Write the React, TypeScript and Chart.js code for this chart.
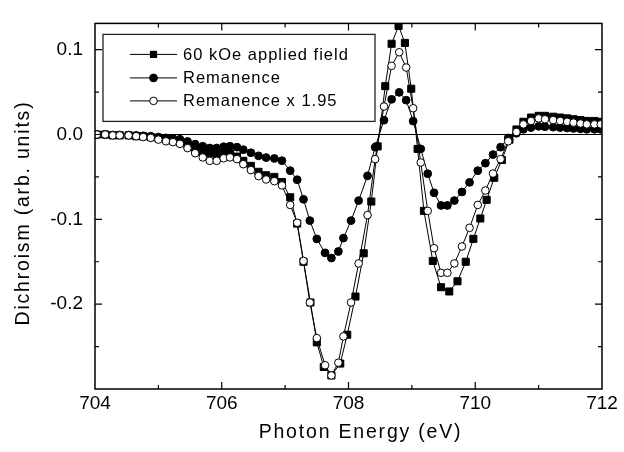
import React, { useEffect, useRef } from 'react';
import { Chart, registerables } from 'chart.js';

Chart.register(...registerables);

// ---- Data ----
const energyRemanence = [
  704.03, 704.16, 704.28, 704.39, 704.53, 704.65, 704.76, 704.88,
  705.0, 705.12, 705.23, 705.34, 705.46, 705.58, 705.7, 705.81, 705.92,
  706.03, 706.13, 706.24, 706.34, 706.46, 706.58, 706.7, 706.83, 706.95,
  707.08, 707.19, 707.29, 707.39, 707.5, 707.63, 707.73, 707.84, 707.92,
  708.04, 708.16, 708.3, 708.42, 708.56, 708.68, 708.8, 708.91,
  709.02, 709.14, 709.25, 709.35, 709.46, 709.56, 709.67, 709.79, 709.91,
  710.04, 710.16, 710.28, 710.4, 710.52, 710.65, 710.76, 710.88,
  711.0, 711.1, 711.23, 711.34, 711.45, 711.55, 711.66, 711.76, 711.88, 711.98,
];

const remanence = [
  0.0, 0.0, -0.0005, -0.0005, -0.0005, -0.001, -0.0015, -0.002,
  -0.003, -0.004, -0.0046, -0.0056, -0.0082, -0.0113, -0.0138, -0.0159, -0.0159,
  -0.0144, -0.0138, -0.0149, -0.0179, -0.0215, -0.0251, -0.0272, -0.0282, -0.0308,
  -0.0426, -0.0533, -0.0764, -0.1015, -0.1231, -0.1395, -0.1456, -0.1379, -0.1221,
  -0.1015, -0.0779, -0.0487, -0.0149, 0.0169, 0.0415, 0.0497, 0.0405,
  0.0159, -0.0169, -0.0462, -0.0687, -0.0836, -0.0836, -0.0779, -0.0677, -0.0564,
  -0.0426, -0.0338, -0.0236, -0.0149, -0.0041, 0.0015, 0.0062, 0.0082,
  0.0097, 0.0092, 0.0087, 0.0082, 0.0077, 0.0072, 0.0067, 0.0062, 0.0062, 0.0062,
];

const remanenceScaled = [
  0.0, 0.0, -0.001, -0.001, -0.001, -0.002, -0.003, -0.004,
  -0.006, -0.008, -0.009, -0.011, -0.016, -0.022, -0.027, -0.031, -0.031,
  -0.028, -0.027, -0.029, -0.035, -0.042, -0.049, -0.053, -0.055, -0.06,
  -0.083, -0.104, -0.149, -0.198, -0.24, -0.272, -0.284, -0.269, -0.238,
  -0.198, -0.152, -0.095, -0.029, 0.033, 0.081, 0.097, 0.079,
  0.031, -0.033, -0.09, -0.134, -0.163, -0.163, -0.152, -0.132, -0.11,
  -0.083, -0.066, -0.046, -0.029, -0.008, 0.003, 0.012, 0.016,
  0.019, 0.018, 0.017, 0.016, 0.015, 0.014, 0.013, 0.012, 0.012, 0.012,
];

const energyField = [
  704.03, 704.16, 704.28, 704.39, 704.53, 704.65, 704.76, 704.88,
  705.0, 705.12, 705.23, 705.34, 705.46, 705.58, 705.7, 705.81, 705.92,
  706.03, 706.13, 706.24, 706.34, 706.46, 706.58, 706.7, 706.83, 706.95,
  707.08, 707.19, 707.29, 707.4, 707.5, 707.61, 707.73, 707.87, 707.98,
  708.11, 708.24, 708.36, 708.46, 708.58, 708.68, 708.79, 708.89, 708.99,
  709.09, 709.19, 709.33, 709.46, 709.59, 709.72, 709.85, 709.97,
  710.08, 710.18, 710.3, 710.42, 710.54, 710.65, 710.76, 710.88,
  711.0, 711.1, 711.23, 711.34, 711.45, 711.55, 711.66, 711.76, 711.88, 711.98,
];

const field60kOe = [
  0.0, 0.0, -0.001, -0.001, -0.001, -0.002, -0.002, -0.003,
  -0.004, -0.005, -0.007, -0.009, -0.013, -0.017, -0.02, -0.022, -0.023,
  -0.022, -0.023, -0.026, -0.031, -0.037, -0.044, -0.048, -0.05, -0.056,
  -0.074, -0.105, -0.15, -0.198, -0.245, -0.274, -0.284, -0.27, -0.236,
  -0.191, -0.14, -0.079, -0.014, 0.057, 0.107, 0.128, 0.108, 0.054,
  -0.017, -0.09, -0.149, -0.18, -0.185, -0.173, -0.15, -0.123,
  -0.099, -0.077, -0.051, -0.03, -0.006, 0.006, 0.015, 0.02,
  0.022, 0.022, 0.021, 0.02, 0.019, 0.018, 0.017, 0.016, 0.016, 0.015,
];

const xTickLabels = [704, 706, 708, 710, 712];
const yTickLabels = [0.1, 0.0, -0.1, -0.2];
const legendLabels = ['60 kOe applied field', 'Remanence', 'Remanence x 1.95'];
const xTitle = 'Photon Energy (eV)';
const yTitle = 'Dichroism (arb. units)';

const FONT = '"Liberation Sans", Arial, Helvetica, sans-serif';

const toPoints = (xs: number[], ys: number[]) => xs.map((x, i) => ({ x, y: ys[i] }));

const isLabelled = (v: number, list: number[]) => list.some((t) => Math.abs(t - v) < 1e-6);

function drawMarker(ctx: CanvasRenderingContext2D, kind: string, x: number, y: number) {
  ctx.save();
  ctx.lineWidth = 1;
  ctx.strokeStyle = '#000';
  if (kind === 'square') {
    ctx.fillStyle = '#000';
    ctx.fillRect(x - 3.6, y - 3.6, 7.2, 7.2);
  } else {
    ctx.beginPath();
    ctx.arc(x, y, kind === 'filled' ? 3.9 : 3.8, 0, Math.PI * 2);
    ctx.fillStyle = kind === 'filled' ? '#000' : '#fff';
    ctx.fill();
    ctx.stroke();
  }
  ctx.restore();
}

const framePlugin = {
  id: 'frameAndExtras',
  beforeDraw(chart: any) {
    const { ctx, width, height } = chart;
    ctx.save();
    ctx.fillStyle = '#fff';
    ctx.fillRect(0, 0, width, height);
    ctx.restore();
  },
  beforeDatasetsDraw(chart: any) {
    const { ctx, chartArea: a, scales } = chart;
    const y0 = scales.y.getPixelForValue(0);
    ctx.save();
    ctx.strokeStyle = '#000';
    ctx.lineWidth = 1.2;
    ctx.beginPath();
    ctx.moveTo(a.left, y0);
    ctx.lineTo(a.right, y0);
    ctx.stroke();
    ctx.restore();
  },
  afterDatasetsDraw(chart: any) {
    const { ctx, chartArea: a, scales } = chart;
    const xs = scales.x;
    const ys = scales.y;
    ctx.save();
    ctx.strokeStyle = '#000';
    ctx.lineWidth = 1.5;
    ctx.strokeRect(a.left, a.top, a.right - a.left, a.bottom - a.top);

    // inward ticks on all four sides
    ctx.lineWidth = 1.2;
    ctx.beginPath();
    xs.ticks.forEach((t: any) => {
      const v = t.value;
      if (v <= xs.min + 1e-6 || v >= xs.max - 1e-6) return;
      const px = xs.getPixelForValue(v);
      const len = isLabelled(v, xTickLabels) ? 7 : 4;
      ctx.moveTo(px, a.bottom);
      ctx.lineTo(px, a.bottom - len);
      ctx.moveTo(px, a.top);
      ctx.lineTo(px, a.top + len);
    });
    ys.ticks.forEach((t: any) => {
      const v = t.value;
      if (v <= ys.min + 1e-6 || v >= ys.max - 1e-6) return;
      const py = ys.getPixelForValue(v);
      const len = isLabelled(v, yTickLabels) ? 7 : 4;
      ctx.moveTo(a.left, py);
      ctx.lineTo(a.left + len, py);
      ctx.moveTo(a.right, py);
      ctx.lineTo(a.right - len, py);
    });
    ctx.stroke();

    // legend box
    const lx = a.left + 8;
    const ly = a.top + 11;
    const lw = 272;
    const lh = 87;
    ctx.fillStyle = '#fff';
    ctx.fillRect(lx, ly, lw, lh);
    ctx.strokeStyle = '#222';
    ctx.lineWidth = 1.3;
    ctx.strokeRect(lx, ly, lw, lh);
    const kinds = ['square', 'filled', 'open'];
    const rowYs = [ly + 20, ly + 43.5, ly + 66.5];
    (ctx as any).letterSpacing = '1px';
    ctx.font = `16.5px ${FONT}`;
    ctx.textAlign = 'left';
    ctx.textBaseline = 'middle';
    kinds.forEach((k, i) => {
      const ry = rowYs[i];
      ctx.strokeStyle = '#000';
      ctx.lineWidth = 1;
      ctx.beginPath();
      ctx.moveTo(lx + 27, ry);
      ctx.lineTo(lx + 74, ry);
      ctx.stroke();
      drawMarker(ctx, k, lx + 50.5, ry);
      ctx.fillStyle = '#000';
      ctx.fillText(legendLabels[i], lx + 80, ry + 1);
    });

    // axis titles
    (ctx as any).letterSpacing = '1.8px';
    ctx.font = `19.5px ${FONT}`;
    ctx.fillStyle = '#000';
    ctx.textAlign = 'center';
    ctx.textBaseline = 'alphabetic';
    ctx.fillText(xTitle, (a.left + a.right) / 2 + 12, 438);
    ctx.save();
    ctx.translate(28.5, 213);
    ctx.rotate(-Math.PI / 2);
    ctx.fillText(yTitle, 0, 0);
    ctx.restore();
    ctx.restore();
  },
};

export default function App() {
  const canvasRef = useRef<HTMLCanvasElement | null>(null);

  useEffect(() => {
    const canvas = canvasRef.current;
    if (!canvas) return;
    const common = {
      borderColor: '#000',
      borderWidth: 1,
      pointBorderColor: '#000',
      pointBorderWidth: 1,
      tension: 0,
      fill: false,
    };
    const chart = new Chart(canvas, {
      type: 'line',
      data: {
        datasets: [
          {
            ...common,
            label: legendLabels[2],
            data: toPoints(energyRemanence, remanenceScaled),
            pointStyle: 'circle',
            pointRadius: 3.8,
            pointBackgroundColor: '#fff',
          },
          {
            ...common,
            label: legendLabels[1],
            data: toPoints(energyRemanence, remanence),
            pointStyle: 'circle',
            pointRadius: 3.9,
            pointBackgroundColor: '#000',
          },
          {
            ...common,
            label: legendLabels[0],
            data: toPoints(energyField, field60kOe),
            pointStyle: 'rect',
            pointRadius: 5,
            pointBackgroundColor: '#000',
          },
        ],
      } as any,
      options: {
        responsive: false,
        animation: false,
        events: [],
        layout: { padding: { left: 0, right: 22, top: 14, bottom: 0 } },
        plugins: {
          legend: { display: false },
          tooltip: { enabled: false },
          title: { display: false },
        },
        scales: {
          x: {
            type: 'linear',
            min: 704,
            max: 712,
            afterFit: (s: any) => {
              s.height = 63;
            },
            grid: { display: false, drawTicks: false },
            border: { display: false },
            ticks: {
              stepSize: 1,
              autoSkip: false,
              maxRotation: 0,
              padding: 3,
              color: '#000',
              font: { family: FONT, size: 19 },
              callback: (v: any) => (isLabelled(Number(v), xTickLabels) ? String(Math.round(Number(v))) : ''),
            },
          },
          y: {
            type: 'linear',
            min: -0.3,
            max: 0.131,
            afterFit: (s: any) => {
              s.width = 95;
            },
            grid: { display: false, drawTicks: false },
            border: { display: false },
            ticks: {
              stepSize: 0.05,
              autoSkip: false,
              padding: 12,
              color: '#000',
              font: { family: FONT, size: 19 },
              callback: (v: any) => {
                const n = Number(v);
                if (!isLabelled(n, yTickLabels)) return '';
                const r = Math.round(n * 10) / 10;
                return (r === 0 ? 0 : r).toFixed(1);
              },
            },
          },
        },
      } as any,
      plugins: [framePlugin],
    });
    return () => chart.destroy();
  }, []);

  return (
    <div style={{ position: 'absolute', left: 0, top: 0, width: 624, height: 452, background: '#fff' }}>
      <canvas ref={canvasRef} width={624} height={452} style={{ display: 'block', width: 624, height: 452 }} />
    </div>
  );
}
